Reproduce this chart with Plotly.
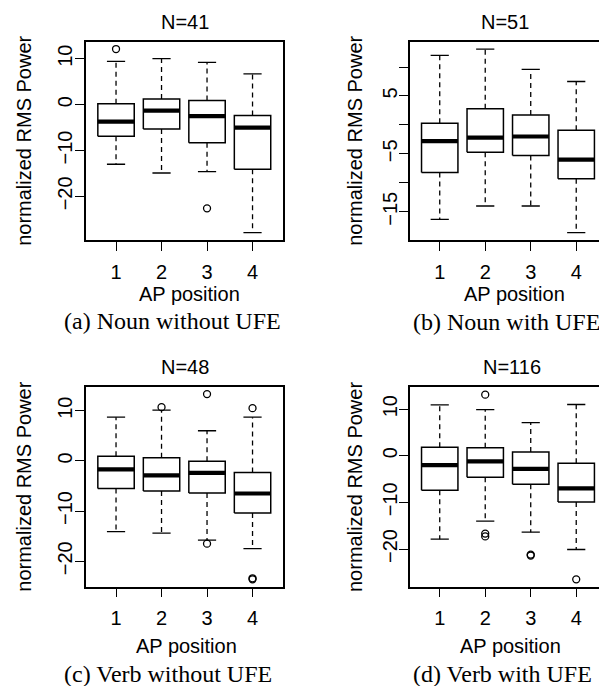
import plotly.graph_objects as go

W, H = 599, 686

positions = [1, 2, 3, 4]
x_labels = ["1", "2", "3", "4"]

# (a) Noun without UFE, N=41
a_hi = [9.4, 10.0, 9.2, 6.7]
a_q3 = [0.2, 1.2, 0.9, -2.4]
a_med = [-3.7, -1.3, -2.5, -5.0]
a_q1 = [-6.9, -5.3, -8.3, -14.1]
a_lo = [-13.0, -14.9, -14.6, -27.9]
a_out = [[12.1], [], [-22.6], []]

# (b) Noun with UFE, N=51
b_hi = [12.0, 13.1, 9.6, 7.5]
b_q3 = [0.3, 2.8, 1.7, -0.9]
b_med = [-2.8, -2.2, -2.0, -6.0]
b_q1 = [-8.2, -4.7, -5.3, -9.3]
b_lo = [-16.3, -14.0, -14.0, -18.6]
b_out = [[], [], [], []]

# (c) Verb without UFE, N=48
c_hi = [8.7, 10.1, 6.0, 8.7]
c_q3 = [0.9, 0.6, -0.1, -2.3]
c_med = [-1.7, -2.9, -2.4, -6.5]
c_q1 = [-5.5, -6.0, -6.4, -10.4]
c_lo = [-14.1, -14.4, -15.8, -17.5]
c_out = [[], [10.7], [13.3, -16.5], [10.5, -23.4, -23.6]]

# (d) Verb with UFE, N=116
d_hi = [10.9, 9.9, 7.1, 11.0]
d_q3 = [1.8, 1.7, 0.8, -1.6]
d_med = [-2.0, -1.2, -2.8, -7.0]
d_q1 = [-7.4, -4.6, -6.1, -9.9]
d_lo = [-17.9, -14.0, -16.4, -20.1]
d_out = [[], [13.1, -16.7, -17.3], [-21.2, -21.4], [-26.5]]

titles = ["N=41", "N=51", "N=48", "N=116"]
captions = ["(a) Noun without UFE", "(b) Noun with UFE",
            "(c) Verb without UFE", "(d) Verb with UFE"]

y_tickvals = [
    [-20, -10, 0, 10],
    [-15, -10, -5, 0, 5, 10],
    [-20, -10, 0, 10],
    [-20, -10, 0, 10],
]
y_ticktext = [
    ["\u221220", "\u221210", "0", "10"],
    ["\u221215", "", "\u22125", "", "5", ""],
    ["\u221220", "\u221210", "0", "10"],
    ["\u221220", "\u221210", "0", "10"],
]

panels = [
    (a_hi, a_q3, a_med, a_q1, a_lo, a_out),
    (b_hi, b_q3, b_med, b_q1, b_lo, b_out),
    (c_hi, c_q3, c_med, c_q1, c_lo, c_out),
    (d_hi, d_q3, d_med, d_q1, d_lo, d_out),
]

SANS = "Liberation Sans, Arial, Helvetica, sans-serif"
SERIF = "Liberation Serif, Times New Roman, serif"
FS = 20

# plot areas in pixels: (left, right, top, bottom)
areas = [
    (86.0, 283.0, 41.7, 240.0),
    (409.7, 599.0, 41.7, 240.0),
    (86.0, 282.7, 386.7, 586.7),
    (409.7, 599.0, 387.3, 586.7),
]
ylab_standoff = [-5, -6, -5, -6]
px_per_unit = 45.5
BW = 0.4   # half box width
SW = 0.2   # half staple width

fig = go.Figure()

def px(xp):
    return xp / W

def py(yp):
    return 1 - yp / H

annotations = []
for k, (hi, q3, med, q1, lo, outs) in enumerate(panels):
    xa = "x" if k == 0 else f"x{k+1}"
    ya = "y" if k == 0 else f"y{k+1}"
    bx, by, mx, my, wx, wy, sx, sy, ox, oy = [], [], [], [], [], [], [], [], [], []
    for i, p in enumerate(positions):
        bx += [p - BW, p + BW, p + BW, p - BW, p - BW, None]
        by += [q1[i], q1[i], q3[i], q3[i], q1[i], None]
        mx += [p - BW, p + BW, None]
        my += [med[i], med[i], None]
        wx += [p, p, None, p, p, None]
        wy += [q3[i], hi[i], None, q1[i], lo[i], None]
        sx += [p - SW, p + SW, None, p - SW, p + SW, None]
        sy += [hi[i], hi[i], None, lo[i], lo[i], None]
        for v in outs[i]:
            ox.append(p)
            oy.append(v)
    common = dict(xaxis=xa, yaxis=ya, showlegend=False, hoverinfo="skip")
    fig.add_trace(go.Scatter(x=wx, y=wy, mode="lines",
                             line=dict(color="black", width=1.3, dash="5px,4px"), **common))
    fig.add_trace(go.Scatter(x=sx, y=sy, mode="lines",
                             line=dict(color="black", width=1.3), **common))
    fig.add_trace(go.Scatter(x=bx, y=by, mode="lines", fill="toself", fillcolor="white",
                             line=dict(color="black", width=1.5), **common))
    fig.add_trace(go.Scatter(x=mx, y=my, mode="lines",
                             line=dict(color="black", width=4.2), **common))
    if ox:
        fig.add_trace(go.Scatter(x=ox, y=oy, mode="markers",
                                 marker=dict(symbol="circle-open", size=7, color="black",
                                             line=dict(width=1.3, color="black")), **common))

    # R-style range: data extent + 4%
    allv = list(hi) + list(lo) + [v for o in outs for v in o]
    vmin, vmax = min(allv), max(allv)
    ext = 0.04 * (vmax - vmin)
    yr = [vmin - ext, vmax + ext]

    L, R, T, B = areas[k]
    x0 = 0.34
    x1 = x0 + (R - L) / px_per_unit
    right_cut = k in (1, 3)

    axis_common = dict(showline=True, linecolor="black", linewidth=1.5,
                       ticks="outside", ticklen=9, tickwidth=1.3, tickcolor="black",
                       showgrid=False, zeroline=False,
                       tickfont=dict(family=SANS, size=FS, color="black"))
    xkey = "xaxis" if k == 0 else f"xaxis{k+1}"
    ykey = "yaxis" if k == 0 else f"yaxis{k+1}"
    fig.update_layout(**{
        xkey: dict(domain=[px(L), px(R)], range=[x0, x1], anchor=ya,
                   tickvals=positions, ticktext=x_labels, mirror=True,
                   ticklabelstandoff=4, **axis_common),
        ykey: dict(domain=[py(B), py(T)], range=yr, anchor=xa,
                   tickvals=y_tickvals[k], ticktext=y_ticktext[k],
                   tickangle=-90, mirror=not right_cut,
                   ticklabelstandoff=ylab_standoff[k], **axis_common),
    })

title_pos = [(185, 21.7), (505.3, 21.7), (185, 367), (512, 367)]
apx = [189.5, 514, 186, 510]
apy = [294, 294, 646, 646]
yt_x = [24, 355, 24, 355]
cap_pos = [(172.7, 321), (506, 321.5), (168.3, 673.7), (502.5, 673.7)]

for k in range(4):
    L, R, T, B = areas[k]
    annotations.append(dict(text=titles[k], x=px(title_pos[k][0]), y=py(title_pos[k][1]),
                            xref="paper", yref="paper", showarrow=False,
                            xanchor="center", yanchor="middle",
                            font=dict(family=SANS, size=FS, color="black")))
    annotations.append(dict(text="AP position", x=px(apx[k]), y=py(apy[k]),
                            xref="paper", yref="paper", showarrow=False,
                            xanchor="center", yanchor="middle",
                            font=dict(family=SANS, size=FS, color="black")))
    annotations.append(dict(text="normalized RMS Power", x=px(yt_x[k]), y=py((T + B) / 2),
                            xref="paper", yref="paper", showarrow=False, textangle=-90,
                            xanchor="center", yanchor="middle",
                            font=dict(family=SANS, size=FS, color="black")))
    annotations.append(dict(text=captions[k], x=px(cap_pos[k][0]), y=py(cap_pos[k][1]),
                            xref="paper", yref="paper", showarrow=False,
                            xanchor="center", yanchor="middle",
                            font=dict(family=SERIF, size=24, color="black")))

fig.update_layout(width=W, height=H, margin=dict(l=0, r=0, t=0, b=0),
                  paper_bgcolor="white", plot_bgcolor="white",
                  annotations=annotations)

fig.write_html("out.html", config={"displayModeBar": False},
               post_script="document.body.style.margin='0px';"
                           "document.body.style.overflow='hidden';")
